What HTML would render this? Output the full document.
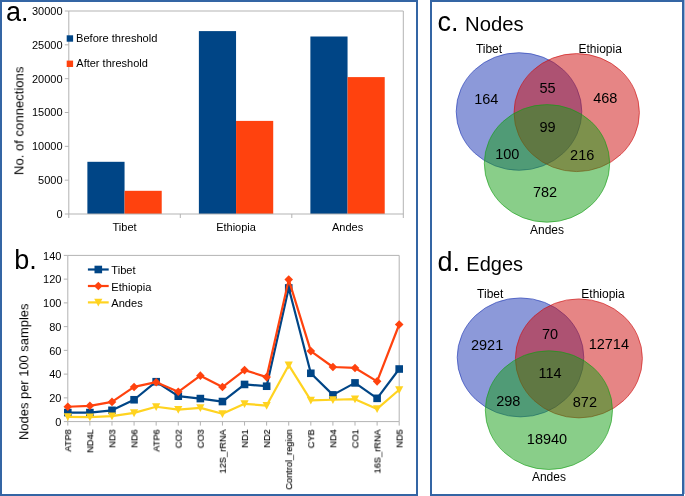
<!DOCTYPE html><html><head><meta charset="utf-8"><style>html,body{margin:0;padding:0;background:#fff;}svg{display:block;}text{will-change:transform;}text{font-family:"Liberation Sans", sans-serif;fill:#000;}</style></head><body>
<svg width="685" height="496" viewBox="0 0 685 496">
<rect x="0" y="0" width="685" height="496" fill="#fff"/>
<rect x="1" y="1" width="416" height="494" fill="none" stroke="#3465a4" stroke-width="2"/>
<rect x="431" y="1" width="252" height="494" fill="none" stroke="#3465a4" stroke-width="2"/>
<rect x="684" y="0" width="1" height="494" fill="#9fb3d6"/>
<path d="M68.8 11.0H403.3V214.0" fill="none" stroke="#b3b3b3" stroke-width="1"/>
<rect x="87.38" y="161.80" width="37.17" height="52.20" fill="#004586"/>
<rect x="124.55" y="190.80" width="37.17" height="23.20" fill="#ff420e"/>
<rect x="198.88" y="31.10" width="37.17" height="182.90" fill="#004586"/>
<rect x="236.05" y="120.90" width="37.17" height="93.10" fill="#ff420e"/>
<rect x="310.38" y="36.50" width="37.17" height="177.50" fill="#004586"/>
<rect x="347.55" y="77.10" width="37.17" height="136.90" fill="#ff420e"/>
<path d="M68.8 11.0V214.0H403.3" fill="none" stroke="#b3b3b3" stroke-width="1"/>
<path d="M64.8 214.00H68.8" stroke="#b3b3b3" stroke-width="1"/>
<text x="62.55" y="217.90" font-size="11" text-anchor="end">0</text>
<path d="M64.8 180.17H68.8" stroke="#b3b3b3" stroke-width="1"/>
<text x="62.55" y="184.07" font-size="11" text-anchor="end">5000</text>
<path d="M64.8 146.33H68.8" stroke="#b3b3b3" stroke-width="1"/>
<text x="62.55" y="150.23" font-size="11" text-anchor="end">10000</text>
<path d="M64.8 112.50H68.8" stroke="#b3b3b3" stroke-width="1"/>
<text x="62.55" y="116.40" font-size="11" text-anchor="end">15000</text>
<path d="M64.8 78.67H68.8" stroke="#b3b3b3" stroke-width="1"/>
<text x="62.55" y="82.57" font-size="11" text-anchor="end">20000</text>
<path d="M64.8 44.83H68.8" stroke="#b3b3b3" stroke-width="1"/>
<text x="62.55" y="48.73" font-size="11" text-anchor="end">25000</text>
<path d="M64.8 11.00H68.8" stroke="#b3b3b3" stroke-width="1"/>
<text x="62.55" y="14.90" font-size="11" text-anchor="end">30000</text>
<path d="M68.80 214.0V218.0" stroke="#b3b3b3" stroke-width="1"/>
<path d="M180.30 214.0V218.0" stroke="#b3b3b3" stroke-width="1"/>
<path d="M291.80 214.0V218.0" stroke="#b3b3b3" stroke-width="1"/>
<path d="M403.30 214.0V218.0" stroke="#b3b3b3" stroke-width="1"/>
<text x="124.55" y="230.9" font-size="11" text-anchor="middle">Tibet</text>
<text x="236.05" y="230.9" font-size="11" text-anchor="middle">Ethiopia</text>
<text x="347.55" y="230.9" font-size="11" text-anchor="middle">Andes</text>
<rect x="66.7" y="35.3" width="6.4" height="6.4" fill="#004586"/>
<rect x="66.7" y="60.6" width="6.4" height="6.4" fill="#ff420e"/>
<text x="76.0" y="42.2" font-size="11.1">Before threshold</text>
<text x="76.3" y="67.4" font-size="11">After threshold</text>
<text transform="translate(23.4,175.1) rotate(-90)" font-size="13.1">No. of connections</text>
<text x="6" y="20.9" font-size="27">a.</text>
<path d="M67.8 255.4H399.2V421.6" fill="none" stroke="#b3b3b3" stroke-width="1"/>
<path d="M67.8 255.4V421.6H399.2" fill="none" stroke="#b3b3b3" stroke-width="1"/>
<path d="M63.8 421.60H67.8" stroke="#b3b3b3" stroke-width="1"/>
<text x="61.45" y="425.80" font-size="11" text-anchor="end">0</text>
<path d="M63.8 397.86H67.8" stroke="#b3b3b3" stroke-width="1"/>
<text x="61.45" y="402.06" font-size="11" text-anchor="end">20</text>
<path d="M63.8 374.11H67.8" stroke="#b3b3b3" stroke-width="1"/>
<text x="61.45" y="378.31" font-size="11" text-anchor="end">40</text>
<path d="M63.8 350.37H67.8" stroke="#b3b3b3" stroke-width="1"/>
<text x="61.45" y="354.57" font-size="11" text-anchor="end">60</text>
<path d="M63.8 326.63H67.8" stroke="#b3b3b3" stroke-width="1"/>
<text x="61.45" y="330.83" font-size="11" text-anchor="end">80</text>
<path d="M63.8 302.89H67.8" stroke="#b3b3b3" stroke-width="1"/>
<text x="61.45" y="307.09" font-size="11" text-anchor="end">100</text>
<path d="M63.8 279.14H67.8" stroke="#b3b3b3" stroke-width="1"/>
<text x="61.45" y="283.34" font-size="11" text-anchor="end">120</text>
<path d="M63.8 255.40H67.8" stroke="#b3b3b3" stroke-width="1"/>
<text x="61.45" y="259.60" font-size="11" text-anchor="end">140</text>
<path d="M67.80 421.6V425.6" stroke="#b3b3b3" stroke-width="1"/>
<text transform="translate(70.80,429.3) rotate(-90) scale(1,1.07)" font-size="9.25" text-anchor="end" stroke="#000" stroke-width="0.12">ATP8</text>
<path d="M89.89 421.6V425.6" stroke="#b3b3b3" stroke-width="1"/>
<text transform="translate(92.89,429.3) rotate(-90) scale(1,1.07)" font-size="9.25" text-anchor="end" stroke="#000" stroke-width="0.12">ND4L</text>
<path d="M111.99 421.6V425.6" stroke="#b3b3b3" stroke-width="1"/>
<text transform="translate(114.99,429.3) rotate(-90) scale(1,1.07)" font-size="9.25" text-anchor="end" stroke="#000" stroke-width="0.12">ND3</text>
<path d="M134.08 421.6V425.6" stroke="#b3b3b3" stroke-width="1"/>
<text transform="translate(137.08,429.3) rotate(-90) scale(1,1.07)" font-size="9.25" text-anchor="end" stroke="#000" stroke-width="0.12">ND6</text>
<path d="M156.17 421.6V425.6" stroke="#b3b3b3" stroke-width="1"/>
<text transform="translate(159.17,429.3) rotate(-90) scale(1,1.07)" font-size="9.25" text-anchor="end" stroke="#000" stroke-width="0.12">ATP6</text>
<path d="M178.27 421.6V425.6" stroke="#b3b3b3" stroke-width="1"/>
<text transform="translate(181.27,429.3) rotate(-90) scale(1,1.07)" font-size="9.25" text-anchor="end" stroke="#000" stroke-width="0.12">CO2</text>
<path d="M200.36 421.6V425.6" stroke="#b3b3b3" stroke-width="1"/>
<text transform="translate(203.36,429.3) rotate(-90) scale(1,1.07)" font-size="9.25" text-anchor="end" stroke="#000" stroke-width="0.12">CO3</text>
<path d="M222.45 421.6V425.6" stroke="#b3b3b3" stroke-width="1"/>
<text transform="translate(225.45,429.3) rotate(-90) scale(1,1.07)" font-size="9.25" text-anchor="end" stroke="#000" stroke-width="0.12">12S_rRNA</text>
<path d="M244.55 421.6V425.6" stroke="#b3b3b3" stroke-width="1"/>
<text transform="translate(247.55,429.3) rotate(-90) scale(1,1.07)" font-size="9.25" text-anchor="end" stroke="#000" stroke-width="0.12">ND1</text>
<path d="M266.64 421.6V425.6" stroke="#b3b3b3" stroke-width="1"/>
<text transform="translate(269.64,429.3) rotate(-90) scale(1,1.07)" font-size="9.25" text-anchor="end" stroke="#000" stroke-width="0.12">ND2</text>
<path d="M288.73 421.6V425.6" stroke="#b3b3b3" stroke-width="1"/>
<text transform="translate(291.73,429.3) rotate(-90) scale(1,1.07)" font-size="9.25" text-anchor="end" stroke="#000" stroke-width="0.12">Control_region</text>
<path d="M310.83 421.6V425.6" stroke="#b3b3b3" stroke-width="1"/>
<text transform="translate(313.83,429.3) rotate(-90) scale(1,1.07)" font-size="9.25" text-anchor="end" stroke="#000" stroke-width="0.12">CYB</text>
<path d="M332.92 421.6V425.6" stroke="#b3b3b3" stroke-width="1"/>
<text transform="translate(335.92,429.3) rotate(-90) scale(1,1.07)" font-size="9.25" text-anchor="end" stroke="#000" stroke-width="0.12">ND4</text>
<path d="M355.01 421.6V425.6" stroke="#b3b3b3" stroke-width="1"/>
<text transform="translate(358.01,429.3) rotate(-90) scale(1,1.07)" font-size="9.25" text-anchor="end" stroke="#000" stroke-width="0.12">CO1</text>
<path d="M377.11 421.6V425.6" stroke="#b3b3b3" stroke-width="1"/>
<text transform="translate(380.11,429.3) rotate(-90) scale(1,1.07)" font-size="9.25" text-anchor="end" stroke="#000" stroke-width="0.12">16S_rRNA</text>
<path d="M399.20 421.6V425.6" stroke="#b3b3b3" stroke-width="1"/>
<text transform="translate(402.20,429.3) rotate(-90) scale(1,1.07)" font-size="9.25" text-anchor="end" stroke="#000" stroke-width="0.12">ND5</text>
<polyline points="67.80,412.58 89.89,412.58 111.99,410.32 134.08,399.76 156.17,381.71 178.27,396.20 200.36,398.57 222.45,401.54 244.55,384.44 266.64,386.22 288.73,287.93 310.83,373.28 332.92,394.89 355.01,382.90 377.11,398.33 399.20,369.01" fill="none" stroke="#004586" stroke-width="2.2" stroke-linejoin="round"/>
<rect x="64.00" y="408.78" width="7.6" height="7.6" fill="#004586"/>
<rect x="86.09" y="408.78" width="7.6" height="7.6" fill="#004586"/>
<rect x="108.19" y="406.52" width="7.6" height="7.6" fill="#004586"/>
<rect x="130.28" y="395.96" width="7.6" height="7.6" fill="#004586"/>
<rect x="152.37" y="377.91" width="7.6" height="7.6" fill="#004586"/>
<rect x="174.47" y="392.40" width="7.6" height="7.6" fill="#004586"/>
<rect x="196.56" y="394.77" width="7.6" height="7.6" fill="#004586"/>
<rect x="218.65" y="397.74" width="7.6" height="7.6" fill="#004586"/>
<rect x="240.75" y="380.64" width="7.6" height="7.6" fill="#004586"/>
<rect x="262.84" y="382.42" width="7.6" height="7.6" fill="#004586"/>
<rect x="284.93" y="284.13" width="7.6" height="7.6" fill="#004586"/>
<rect x="307.03" y="369.48" width="7.6" height="7.6" fill="#004586"/>
<rect x="329.12" y="391.09" width="7.6" height="7.6" fill="#004586"/>
<rect x="351.21" y="379.10" width="7.6" height="7.6" fill="#004586"/>
<rect x="373.31" y="394.53" width="7.6" height="7.6" fill="#004586"/>
<rect x="395.40" y="365.21" width="7.6" height="7.6" fill="#004586"/>
<polyline points="67.80,406.76 89.89,405.81 111.99,401.89 134.08,386.94 156.17,382.19 178.27,391.80 200.36,375.66 222.45,387.05 244.55,370.08 266.64,377.08 288.73,279.62 310.83,351.08 332.92,366.99 355.01,367.94 377.11,381.36 399.20,324.49" fill="none" stroke="#ff420e" stroke-width="2.2" stroke-linejoin="round"/>
<path d="M67.80 402.46L72.10 406.76L67.80 411.06L63.50 406.76Z" fill="#ff420e"/>
<path d="M89.89 401.51L94.19 405.81L89.89 410.11L85.59 405.81Z" fill="#ff420e"/>
<path d="M111.99 397.59L116.29 401.89L111.99 406.19L107.69 401.89Z" fill="#ff420e"/>
<path d="M134.08 382.64L138.38 386.94L134.08 391.24L129.78 386.94Z" fill="#ff420e"/>
<path d="M156.17 377.89L160.47 382.19L156.17 386.49L151.87 382.19Z" fill="#ff420e"/>
<path d="M178.27 387.50L182.57 391.80L178.27 396.10L173.97 391.80Z" fill="#ff420e"/>
<path d="M200.36 371.36L204.66 375.66L200.36 379.96L196.06 375.66Z" fill="#ff420e"/>
<path d="M222.45 382.75L226.75 387.05L222.45 391.35L218.15 387.05Z" fill="#ff420e"/>
<path d="M244.55 365.78L248.85 370.08L244.55 374.38L240.25 370.08Z" fill="#ff420e"/>
<path d="M266.64 372.78L270.94 377.08L266.64 381.38L262.34 377.08Z" fill="#ff420e"/>
<path d="M288.73 275.32L293.03 279.62L288.73 283.92L284.43 279.62Z" fill="#ff420e"/>
<path d="M310.83 346.78L315.13 351.08L310.83 355.38L306.53 351.08Z" fill="#ff420e"/>
<path d="M332.92 362.69L337.22 366.99L332.92 371.29L328.62 366.99Z" fill="#ff420e"/>
<path d="M355.01 363.64L359.31 367.94L355.01 372.24L350.71 367.94Z" fill="#ff420e"/>
<path d="M377.11 377.06L381.41 381.36L377.11 385.66L372.81 381.36Z" fill="#ff420e"/>
<path d="M399.20 320.19L403.50 324.49L399.20 328.79L394.90 324.49Z" fill="#ff420e"/>
<polyline points="67.80,416.85 89.89,417.09 111.99,416.14 134.08,412.93 156.17,406.76 178.27,409.61 200.36,407.83 222.45,413.76 244.55,403.79 266.64,405.57 288.73,365.21 310.83,400.35 332.92,399.76 355.01,399.16 377.11,408.90 399.20,389.78" fill="none" stroke="#ffd320" stroke-width="2.2" stroke-linejoin="round"/>
<path d="M63.70 413.25H71.90L67.80 421.05Z" fill="#ffd320"/>
<path d="M85.79 413.49H93.99L89.89 421.29Z" fill="#ffd320"/>
<path d="M107.89 412.54H116.09L111.99 420.34Z" fill="#ffd320"/>
<path d="M129.98 409.33H138.18L134.08 417.13Z" fill="#ffd320"/>
<path d="M152.07 403.16H160.27L156.17 410.96Z" fill="#ffd320"/>
<path d="M174.17 406.01H182.37L178.27 413.81Z" fill="#ffd320"/>
<path d="M196.26 404.23H204.46L200.36 412.03Z" fill="#ffd320"/>
<path d="M218.35 410.16H226.55L222.45 417.96Z" fill="#ffd320"/>
<path d="M240.45 400.19H248.65L244.55 407.99Z" fill="#ffd320"/>
<path d="M262.54 401.97H270.74L266.64 409.77Z" fill="#ffd320"/>
<path d="M284.63 361.61H292.83L288.73 369.41Z" fill="#ffd320"/>
<path d="M306.73 396.75H314.93L310.83 404.55Z" fill="#ffd320"/>
<path d="M328.82 396.16H337.02L332.92 403.96Z" fill="#ffd320"/>
<path d="M350.91 395.56H359.11L355.01 403.36Z" fill="#ffd320"/>
<path d="M373.01 405.30H381.21L377.11 413.10Z" fill="#ffd320"/>
<path d="M395.10 386.18H403.30L399.20 393.98Z" fill="#ffd320"/>
<path d="M87.9 269.5H108.7" stroke="#004586" stroke-width="2.2"/>
<rect x="94.50" y="265.70" width="7.6" height="7.6" fill="#004586"/>
<text x="111.3" y="274.00" font-size="11.1">Tibet</text>
<path d="M87.9 286H108.7" stroke="#ff420e" stroke-width="2.2"/>
<path d="M98.30 281.70L102.60 286.00L98.30 290.30L94.00 286.00Z" fill="#ff420e"/>
<text x="111.3" y="290.50" font-size="11.1">Ethiopia</text>
<path d="M87.9 302.4H108.7" stroke="#ffd320" stroke-width="2.2"/>
<path d="M94.20 298.80H102.40L98.30 306.60Z" fill="#ffd320"/>
<text x="111.3" y="306.90" font-size="11.1">Andes</text>
<text transform="translate(28.3,440) rotate(-90)" font-size="12.93">Nodes per 100 samples</text>
<text x="14.2" y="268.5" font-size="27">b.</text>
<ellipse cx="519" cy="111.5" rx="62.8" ry="58.8" fill="#1a33b3" fill-opacity="0.5" stroke="#1a33b3" stroke-opacity="0.6" stroke-width="1"/>
<ellipse cx="576.7" cy="112.6" rx="62.7" ry="59" fill="#cd0b0b" fill-opacity="0.5" stroke="#cd0b0b" stroke-opacity="0.6" stroke-width="1"/>
<ellipse cx="547" cy="163.4" rx="62.7" ry="58.8" fill="#139d13" fill-opacity="0.5" stroke="#139d13" stroke-opacity="0.6" stroke-width="1"/>
<ellipse cx="520.5" cy="357.4" rx="63.3" ry="59.5" fill="#1a33b3" fill-opacity="0.5" stroke="#1a33b3" stroke-opacity="0.6" stroke-width="1"/>
<ellipse cx="578.9" cy="358.4" rx="63.5" ry="59.5" fill="#cd0b0b" fill-opacity="0.5" stroke="#cd0b0b" stroke-opacity="0.6" stroke-width="1"/>
<ellipse cx="548.9" cy="410.15" rx="63.6" ry="59.35" fill="#139d13" fill-opacity="0.5" stroke="#139d13" stroke-opacity="0.6" stroke-width="1"/>
<text x="437.4" y="31" font-size="27">c.</text>
<text x="465.0" y="31" font-size="20.3">Nodes</text>
<text x="489" y="53.1" font-size="12" text-anchor="middle">Tibet</text>
<text x="600.2" y="53.1" font-size="12" text-anchor="middle">Ethiopia</text>
<text x="547" y="233.6" font-size="12" text-anchor="middle">Andes</text>
<text x="486.3" y="103.9" font-size="14.5" text-anchor="middle">164</text>
<text x="547.5" y="93.4" font-size="14.5" text-anchor="middle">55</text>
<text x="605.3" y="103" font-size="14.5" text-anchor="middle">468</text>
<text x="547.5" y="132.1" font-size="14.5" text-anchor="middle">99</text>
<text x="507.3" y="158.6" font-size="14.5" text-anchor="middle">100</text>
<text x="582.2" y="160.1" font-size="14.5" text-anchor="middle">216</text>
<text x="545" y="197.2" font-size="14.5" text-anchor="middle">782</text>
<text x="437.6" y="271" font-size="27">d.</text>
<text x="466.3" y="271" font-size="20">Edges</text>
<text x="490.2" y="298.4" font-size="12" text-anchor="middle">Tibet</text>
<text x="603" y="298.4" font-size="12" text-anchor="middle">Ethiopia</text>
<text x="548.9" y="481.2" font-size="12" text-anchor="middle">Andes</text>
<text x="487.1" y="350" font-size="14.5" text-anchor="middle">2921</text>
<text x="550" y="339.3" font-size="14.5" text-anchor="middle">70</text>
<text x="608.8" y="349.2" font-size="14.5" text-anchor="middle">12714</text>
<text x="550.1" y="378.2" font-size="14.5" text-anchor="middle">114</text>
<text x="508.3" y="405.6" font-size="14.5" text-anchor="middle">298</text>
<text x="584.9" y="406.5" font-size="14.5" text-anchor="middle">872</text>
<text x="547" y="444.2" font-size="14.5" text-anchor="middle">18940</text>
</svg></body></html>
